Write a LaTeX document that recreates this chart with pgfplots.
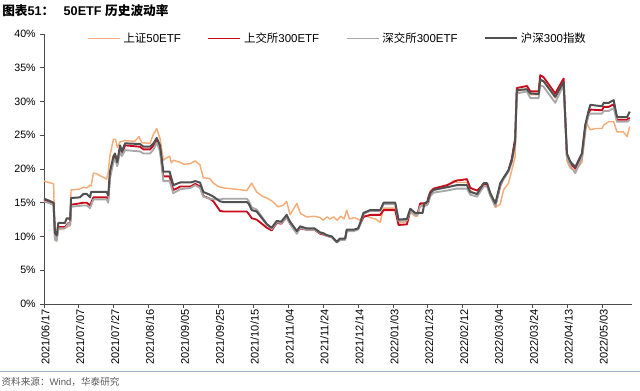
\documentclass[border=0pt]{standalone}
\usepackage{fontspec}
\setmainfont{Liberation Sans}
\newfontfamily\cjk{Noto Sans CJK SC}
\newfontfamily\cjkb{Noto Sans CJK SC Bold}
\usepackage{pgfplots}
\pgfplotsset{compat=1.18}
\definecolor{cOr}{RGB}{244,172,120}
\definecolor{cRed}{RGB}{200,12,30}
\definecolor{cLg}{RGB}{168,168,168}
\definecolor{cDg}{RGB}{80,80,80}
\definecolor{cLine}{RGB}{160,180,200}
\begin{document}
\begin{tikzpicture}
\path[use as bounding box] (0,0) rectangle (480pt,293.25pt);
\node[anchor=west,inner sep=0pt] at (1.5pt,285.5pt) {\fontsize{9.5}{10}\selectfont\bfseries{\cjkb 图表}51{\cjkb ：}\hspace{7pt}50ETF {\cjkb 历史波动率}};
\draw[cLine,line width=0.8pt] (0,14.5pt) -- (480pt,14.5pt);
\node[anchor=west,inner sep=0pt,text=black!65] at (1pt,6.5pt) {\fontsize{7.2}{8}\selectfont{\cjk 资料来源：}Wind{\cjk ，华泰研究}};
\begin{axis}[
  at={(33pt,65.25pt)}, anchor=south west,
  scale only axis, width=441pt, height=202.5pt,
  xmin=0, xmax=337, ymin=0, ymax=40,
  axis lines*=left,
  axis line style={black!70, line width=0.6pt},
  tick style={black!70, line width=0.6pt},
  tick align=outside, major tick length=3pt,
  xtick={0,20,...,320},
  xticklabels={2021/06/17,2021/07/07,2021/07/27,2021/08/16,2021/09/05,2021/09/25,2021/10/15,2021/11/04,2021/11/24,2021/12/14,2022/01/03,2022/01/23,2022/02/12,2022/03/04,2022/03/24,2022/04/13,2022/05/03},
  xticklabel style={rotate=90, anchor=east, font=\fontsize{8.3}{9}\selectfont, inner sep=1pt, yshift=-1pt},
  ytick={0,5,...,40},
  yticklabels={0\%,5\%,10\%,15\%,20\%,25\%,30\%,35\%,40\%},
  yticklabel style={font=\fontsize{8}{9}\selectfont, inner sep=1pt, xshift=-2pt},
  legend columns=4,
  legend style={draw=none, fill=none, at={(0.5,1.025)}, anchor=north, font=\fontsize{8.6}{9}\selectfont, /tikz/every even column/.append style={column sep=18pt}},
  legend image code/.code={\draw[#1, line cap=butt] (0pt,0.2pt) -- (24pt,0.2pt);},
  every axis plot/.append style={line join=round, mark=none},
  clip=false,
]
\addplot[color=cOr, line width=1.1pt] coordinates {
(0,18.2) (3,18.0) (5.5,17.8) (6.3,9.5) (7.3,9.3) (8.2,11.0) (12,11.2) (14,11.5) (15,11.6) (15.5,16.9) (20,17.0) (22.6,17.3) (24.5,17.2) (26.4,17.6) (27,17.5) (28.3,19.4) (30,19.3) (33,18.9) (35.9,18.5) (36.8,19.5) (37.8,22.0) (39.8,24.4) (41,24.4) (42,23.2) (43.6,24.0) (46,24.2) (52,24.1) (54.5,24.8) (56,23.9) (60.8,23.8) (62.8,25.2) (64.6,26.0) (66.5,24.5) (68.4,21.3) (70,21.6) (72,21.9) (73,20.9) (74.1,21.3) (78,21.0) (80,20.7) (84,20.8) (86.6,21.2) (89.4,20.6) (91.3,18.7) (95,18.6) (97.1,17.9) (100,17.4) (102.9,17.2) (110,17.0) (116.2,16.8) (119,17.9) (121.9,16.6) (125,16.0) (127.7,15.7) (131,15.2) (134,14.4) (137,14.6) (139.1,15.2) (141,13.2) (144.9,14.9) (147,13.4) (150.6,12.9) (155,13.0) (158.3,12.8) (160,12.4) (162.1,12.9) (164,12.6) (166,12.9) (168,12.4) (170,13.0) (172,12.6) (173.5,13.9) (175,12.6) (178,12.8) (181.2,12.4) (183.1,13.2) (186.9,12.8) (190,12.6) (192.7,12.1) (194.6,14.2) (201.3,14.2) (203.2,12.0) (208,12.2) (209.9,13.6) (212.8,13.0) (214,13.0) (215.6,14.7) (219.5,14.7) (220.4,15.8) (221.4,16.4) (223.3,17.0) (230.9,17.5) (235,18.3) (236.6,18.0) (242.4,18.0) (244.3,16.8) (248.2,16.2) (252,17.5) (253.9,17.5) (255.8,16.0) (258.7,14.3) (261.5,14.8) (263.4,16.9) (266.2,17.9) (268.1,19.8) (270,21.8) (271,31.5) (276.8,31.9) (278.7,31.0) (283.5,31.0) (284.4,33.3) (286.3,33.0) (293,30.5) (297.8,32.8) (299.7,21.2) (301.6,20.1) (304.5,19.8) (308.3,21.0) (310.2,25.0) (311,26.8) (313.1,25.8) (316,26.0) (319.8,26.0) (320.8,26.5) (323.6,27.0) (326.5,27.0) (328.4,25.5) (332,25.5) (334.2,24.8) (335.7,26.3)
};
\addlegendentry{{\cjk 上证}50ETF}
\addplot[color=cRed, line width=1.4pt] coordinates {
(0,15.4) (5.5,14.9) (6.3,9.8) (7.3,9.8) (8.2,11.4) (12,11.4) (14,12.0) (15,11.8) (15.5,14.7) (22.6,15.0) (24.5,15.0) (26.4,14.6) (28.3,15.8) (35.9,15.8) (36.8,15.4) (37.8,19.0) (39.8,21.5) (40.7,22.0) (42,20.8) (43.6,23.2) (44.6,22.3) (46.5,23.5) (55,23.3) (57,22.9) (60.8,22.9) (62.8,23.5) (64.6,24.3) (66.5,23.0) (68.4,18.9) (72,18.9) (74.1,16.9) (76,17.1) (78,17.4) (84,17.4) (86.6,17.8) (89.4,17.4) (91.3,16.0) (95,15.6) (97.1,15.2) (100.9,13.8) (102.9,13.7) (116.2,13.7) (117.2,13.4) (119.1,12.7) (121.9,12.5) (127.7,11.3) (130.5,10.9) (133.4,12.0) (136,11.9) (139.1,12.9) (141,11.9) (144.9,10.6) (146.8,11.2) (150.6,11.0) (155,11.0) (158.3,10.4) (160,10.3) (162.1,10.1) (165,9.9) (167.8,9.2) (169.7,9.6) (172.6,9.6) (173.5,10.9) (177.4,10.9) (180,11.1) (181.2,11.8) (183.1,12.9) (186.9,13.2) (192.7,13.2) (194.6,13.9) (201.3,13.9) (203.2,11.7) (208,11.8) (209.9,13.8) (212.8,13.3) (214,13.3) (215.6,14.9) (219.5,14.9) (220.4,15.9) (221.4,16.6) (223.3,17.1) (230.9,17.6) (236.6,18.3) (240,18.4) (242.4,18.5) (244.3,17.2) (248.2,16.8) (252,17.8) (253.9,17.8) (255.8,16.3) (258.7,14.6) (261.5,17.5) (263.4,18.6) (266.2,19.8) (268.1,21.5) (270,24.5) (271,32.0) (276.8,32.3) (278.7,31.5) (283.5,31.5) (284.4,33.9) (286.3,33.6) (293,31.2) (297.8,33.4) (299.7,22.0) (301.6,20.8) (304.5,20.1) (308.3,22.0) (310.2,26.3) (312.2,28.3) (313.1,28.8) (319.8,28.7) (320.8,29.2) (323.6,29.2) (326.5,29.6) (328.4,27.3) (334.2,27.3) (335.7,27.6)
};
\addlegendentry{{\cjk 上交所}300ETF}
\addplot[color=cLg, line width=1.4pt] coordinates {
(0,15.2) (5.5,14.7) (6.3,9.5) (7.3,9.4) (8.2,11.2) (12,11.2) (14,11.9) (15,11.7) (15.5,14.4) (22.6,14.6) (24.5,14.6) (26.4,14.2) (28.3,15.5) (35.9,15.5) (36.8,15.0) (37.8,18.6) (39.8,21.0) (40.7,21.5) (42,20.4) (43.6,22.7) (44.6,21.9) (46.5,22.8) (55,22.6) (57,22.3) (60.8,22.3) (62.8,22.9) (64.6,23.9) (66.5,22.6) (68.4,18.2) (72,18.2) (74.1,16.4) (76,16.7) (78,17.0) (84,17.2) (86.6,17.6) (89.4,17.2) (91.3,15.9) (95,15.6) (97.1,15.5) (100.9,15.5) (102.9,15.6) (116.2,15.6) (117.2,15.3) (119.1,14.3) (121.9,14.0) (127.7,11.9) (130.5,11.1) (133.4,12.1) (136,12.0) (139.1,12.9) (141,11.9) (144.9,10.4) (146.8,11.3) (150.6,11.0) (155,11.0) (158.3,10.5) (160,10.4) (162.1,10.1) (165,9.9) (167.8,9.1) (169.7,9.5) (172.6,9.5) (173.5,10.8) (177.4,10.8) (180,11.0) (181.2,11.8) (183.1,13.3) (186.9,13.8) (192.7,13.8) (194.6,14.8) (201.3,14.8) (203.2,12.3) (208,12.4) (209.9,13.8) (212.8,13.2) (214,13.2) (215.6,14.5) (219.5,14.6) (220.4,15.0) (221.4,16.0) (223.3,16.5) (230.9,16.8) (236.6,17.1) (242.4,17.1) (244.3,16.2) (248.2,15.9) (252,17.4) (253.9,17.4) (255.8,16.0) (258.7,14.5) (261.5,17.6) (263.4,18.5) (266.2,19.6) (268.1,21.0) (270,23.5) (271,31.2) (276.8,31.5) (278.7,30.5) (283.5,30.5) (284.4,32.4) (286.3,32.2) (293,29.8) (297.8,32.5) (299.7,21.8) (301.6,20.5) (304.5,19.4) (308.3,21.6) (310.2,26.0) (312.2,28.0) (313.1,28.2) (319.8,28.2) (320.8,28.6) (323.6,28.6) (326.5,29.0) (328.4,27.0) (334.2,27.0) (335.7,27.3)
};
\addlegendentry{{\cjk 深交所}300ETF}
\addplot[color=cDg, line width=1.5pt] coordinates {
(0,15.6) (3,15.3) (5.5,15.0) (6.3,10.5) (7.3,10.2) (8.2,12.0) (12,12.0) (13,12.7) (14,12.7) (15,12.5) (15.5,15.7) (20.6,15.8) (22.6,16.3) (24.5,16.3) (26.4,15.8) (27,16.6) (35.9,16.6) (36.8,16.1) (37.8,19.6) (39.8,21.9) (40.7,22.3) (42,21.0) (43.6,23.5) (44.6,22.6) (46.5,23.8) (55,23.7) (57,23.3) (60.8,23.3) (62.8,23.8) (64.6,24.6) (66.5,23.5) (68.4,19.6) (72,19.6) (74.1,17.6) (76,17.8) (78,18.0) (84,18.0) (86.6,18.2) (89.4,18.0) (91.3,16.6) (95,16.2) (97.1,15.9) (100.9,15.2) (102.9,15.1) (116.2,15.1) (117.2,14.9) (119.1,13.9) (121.9,13.7) (127.7,11.8) (130.5,11.3) (133.4,12.3) (136,12.2) (139.1,13.2) (141,12.2) (144.9,10.8) (146.8,11.5) (150.6,11.2) (155,11.2) (158.3,10.6) (160,10.5) (162.1,10.2) (165,10.0) (167.8,9.2) (169.7,9.7) (172.6,9.7) (173.5,11.0) (177.4,11.0) (180,11.2) (181.2,12.0) (183.1,13.5) (185,13.7) (186.9,13.9) (192.7,13.9) (194.6,15.0) (201.3,15.0) (203.2,12.5) (208,12.6) (209.9,14.1) (212.8,13.5) (217,13.5) (218,14.9) (220,15.2) (221.4,16.4) (223.3,16.9) (230.9,17.3) (236.6,17.6) (242.4,17.6) (244.3,16.6) (248.2,16.3) (252,17.9) (253.9,17.9) (255.8,16.4) (258.7,14.9) (261.5,17.9) (263.4,18.7) (266.2,19.8) (268.1,21.3) (270,24.0) (271,31.7) (276.8,31.8) (278.7,31.2) (283.5,31.1) (284.4,33.2) (286.3,33.0) (293,30.7) (297.8,32.9) (299.7,22.3) (301.6,21.1) (304.5,20.3) (308.3,22.3) (310.2,26.5) (312.2,28.7) (313.1,29.5) (319.8,29.3) (320.8,29.8) (323.6,29.8) (326.5,30.2) (328.4,27.7) (334.2,27.7) (335.7,28.5)
};
\addlegendentry{{\cjk 沪深}300{\cjk 指数}}
\end{axis}
\end{tikzpicture}
\end{document}
